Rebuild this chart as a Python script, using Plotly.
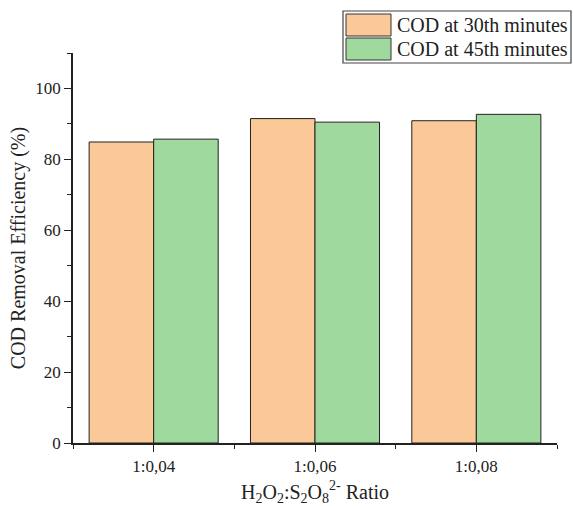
import plotly.graph_objects as go

categories = ["1:0,04", "1:0,06", "1:0,08"]
series_names = ["COD at 30th minutes", "COD at 45th minutes"]
cod_30 = [84.9, 91.5, 90.9]
cod_45 = [85.7, 90.5, 92.7]
colors = ["#FBC898", "#9FD99E"]

FONT = "Liberation Serif, Times New Roman, serif"
x_pos = list(range(len(categories)))

fig = go.Figure()
for name, vals, col in zip(series_names, [cod_30, cod_45], colors):
    fig.add_trace(go.Bar(
        x=x_pos, y=vals, name=name, marker=dict(color=col, line=dict(color="#222", width=1)),
        showlegend=False,
    ))

L, R, T, B = 73, 16, 53, 63
W, H = 573, 506
pw, ph = W - L - R, H - T - B

def px(x):
    return (x - L) / pw

def py(y):
    return (H - B - y) / ph

fig.update_layout(
    width=W, height=H,
    margin=dict(l=L, r=R, t=T, b=B, autoexpand=False),
    paper_bgcolor="white", plot_bgcolor="white",
    barmode="group", bargap=0.2, bargroupgap=0,
    font=dict(family=FONT, size=17, color="#222"),
    xaxis=dict(
        range=[-0.5, 2.5], tickvals=x_pos, ticktext=categories, automargin=False,
        showline=True, linecolor="#222", linewidth=1.5,
        ticks="outside", ticklen=7, tickwidth=1.2, tickcolor="#222",
        showgrid=False, zeroline=False,
        minor=dict(tickvals=[-0.5, 0.5, 1.5, 2.5], ticks="outside", ticklen=4, tickcolor="#222", tickwidth=1.2),
        title=dict(text="H<sub>2</sub>O<sub>2</sub>:S<sub>2</sub>O<sub>8</sub><sup>2-</sup> Ratio",
                   font=dict(size=20), standoff=15),
        tickfont=dict(size=17),
    ),
    yaxis=dict(
        range=[0, 110], tickvals=[0, 20, 40, 60, 80, 100], automargin=False,
        showline=True, linecolor="#222", linewidth=1.5,
        ticks="outside", ticklen=7, tickwidth=1.2, tickcolor="#222",
        showgrid=False, zeroline=False,
        minor=dict(tickvals=[10, 30, 50, 70, 90, 110], ticks="outside", ticklen=4, tickcolor="#222", tickwidth=1.2),
        title=dict(text="COD Removal Efficiency (%)", font=dict(size=20), standoff=4),
        tickfont=dict(size=17),
    ),
)

# custom legend with large swatches
fig.add_shape(type="rect", xref="paper", yref="paper",
              x0=px(343), x1=px(571), y0=py(63), y1=py(11),
              line=dict(color="#444", width=1.2), fillcolor="white", layer="above")
for i, (name, col) in enumerate(zip(series_names, colors)):
    top = 14 + i * 24
    fig.add_shape(type="rect", xref="paper", yref="paper",
                  x0=px(346), x1=px(391), y0=py(top + 22), y1=py(top),
                  line=dict(color="#333", width=1), fillcolor=col, layer="above")
    fig.add_annotation(xref="paper", yref="paper", x=px(395), y=py(top + 11),
                       text=name, showarrow=False, xanchor="left", yanchor="middle",
                       font=dict(size=20, family=FONT, color="#222"))

fig.write_html("out.html")
